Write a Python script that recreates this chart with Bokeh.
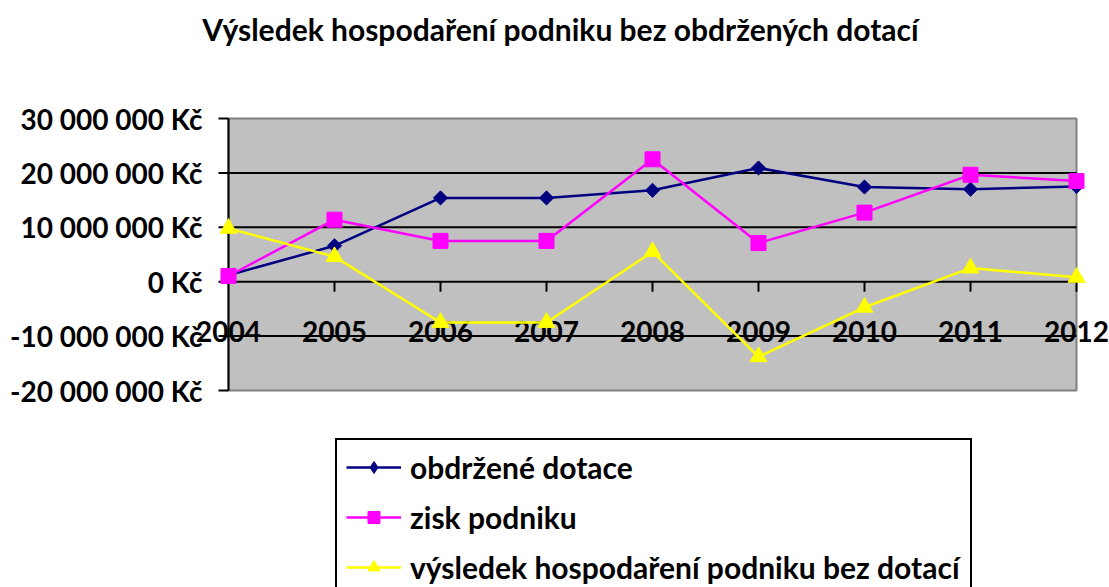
from bokeh.plotting import figure
from bokeh.models import Range1d, Legend, LegendItem
from bokeh.core.properties import value
from bokeh.embed import file_html
from bokeh.resources import INLINE
import math

title_text = "Výsledek hospodaření podniku bez obdržených dotací"
years = ["2004", "2005", "2006", "2007", "2008", "2009", "2010", "2011", "2012"]
dotace = [1.2e6, 6.6e6, 15.4e6, 15.4e6, 16.8e6, 20.9e6, 17.4e6, 17.0e6, 17.5e6]
zisk = [1.05e6, 11.4e6, 7.5e6, 7.5e6, 22.5e6, 7.1e6, 12.7e6, 19.65e6, 18.5e6]
vysledek = [9.8e6, 4.6e6, -7.5e6, -7.5e6, 5.5e6, -13.8e6, -4.7e6, 2.5e6, 0.8e6]
series_names = ["obdržené dotace", "zisk podniku", "výsledek hospodaření podniku bez dotací"]
y_ticks = [-20e6, -10e6, 0, 10e6, 20e6, 30e6]
y_tick_labels = ["-20 000 000 Kč", "-10 000 000 Kč", "0 Kč", "10 000 000 Kč", "20 000 000 Kč", "30 000 000 Kč"]

FONT = "Lato"
W, H = 1109, 587
PX_L, PX_R, PX_T, PX_B = 228, 1076, 118, 390   # plot-area edges on the canvas

xs = list(range(len(years)))
x_lo, x_hi = xs[0], xs[-1]
y_lo, y_hi = y_ticks[0], y_ticks[-1]
kx = (PX_R - PX_L) / (x_hi - x_lo)
ky = (PX_B - PX_T) / (y_hi - y_lo)

p = figure(width=W, height=H, output_backend="svg", toolbar_location=None,
           x_range=Range1d(x_lo - PX_L / kx, x_hi + (W - PX_R) / kx),
           y_range=Range1d(y_lo - (H - PX_B) / ky, y_hi + PX_T / ky),
           x_axis_type=None, y_axis_type=None, min_border=0)
p.background_fill_color = "white"
p.border_fill_color = "white"
p.outline_line_color = None

# plot area
p.quad(left=[x_lo], right=[x_hi], bottom=[y_lo], top=[y_hi],
       fill_color="#C0C0C0", line_color="#808080", line_width=2)
# horizontal gridlines
inner = y_ticks[1:-1]
p.segment(x0=[x_lo] * len(inner), y0=inner, x1=[x_hi] * len(inner), y1=inner,
          line_color="black", line_width=2)
# value axis
p.segment(x0=[x_lo], y0=[y_lo], x1=[x_lo], y1=[y_hi], line_color="black", line_width=2)
p.segment(x0=[x_lo - 10 / kx] * len(y_ticks), y0=y_ticks, x1=[x_lo] * len(y_ticks), y1=y_ticks,
          line_color="black", line_width=2)
p.text(x=[x_lo] * len(y_ticks), y=y_ticks, text=y_tick_labels, x_offset=-26,
       text_align="right", text_baseline="middle", text_font=value(FONT),
       text_font_size="28px", text_font_style="bold", text_color="black")
# category tick marks on the zero line
p.segment(x0=xs[1:], y0=[0] * (len(xs) - 1), x1=xs[1:], y1=[-10 / ky] * (len(xs) - 1),
          line_color="black", line_width=2)
p.text(x=xs, y=[0] * len(xs), text=years, y_offset=50,
       text_align="center", text_baseline="middle", text_font=value(FONT),
       text_font_size="28px", text_font_style="bold", text_color="black")

# title
p.text(x=[x_lo + (560 - PX_L) / kx], y=[y_hi + (PX_T - 28) / ky], text=[title_text],
       text_align="center", text_baseline="middle", text_font=value(FONT),
       text_font_size="30px", text_font_style="bold", text_color="black")

l1 = p.line(xs, dotace, line_color="#000080", line_width=2.5)
m1 = p.scatter(xs, dotace, marker="square", angle=math.pi / 4, size=10,
               fill_color="#000080", line_color="#000080")
l2 = p.line(xs, zisk, line_color="#FF00FF", line_width=2.5)
m2 = p.scatter(xs, zisk, marker="square", size=15, fill_color="#FF00FF", line_color="#FF00FF")
l3 = p.line(xs, vysledek, line_color="#FFFF00", line_width=2.5)
m3 = p.scatter(xs, vysledek, marker="triangle", size=17, fill_color="#FFFF00", line_color="#FFFF00")
# legend-only diamond symbol (rotation of the square above is not shown in legends)
k1 = p.scatter(x=[float("nan")], y=[float("nan")], marker="diamond", size=17,
               fill_color="#000080", line_color="#000080")

legend = Legend(items=[LegendItem(label=series_names[0], renderers=[l1, k1]),
                       LegendItem(label=series_names[1], renderers=[l2, m2]),
                       LegendItem(label=series_names[2], renderers=[l3, m3])],
                location=(335, -9), orientation="vertical",
                glyph_width=55, glyph_height=30, label_height=30, label_width=551,
                label_standoff=9, spacing=14, padding=9, margin=0,
                label_text_font=FONT, label_text_font_size="30px",
                label_text_font_style="bold", label_text_color="black",
                border_line_color="black", border_line_width=2, border_line_alpha=1.0,
                background_fill_color="white", background_fill_alpha=1.0)
p.add_layout(legend, "center")

open("out.html", "w").write(file_html(p, INLINE))
